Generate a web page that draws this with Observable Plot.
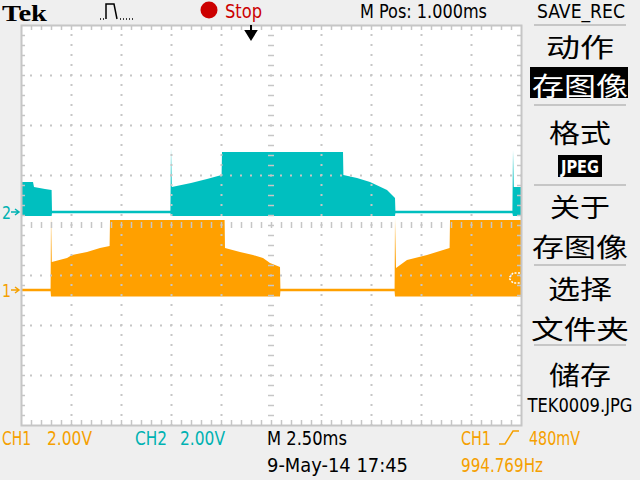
<!DOCTYPE html>
<html><head><meta charset="utf-8">
<script src="https://cdn.jsdelivr.net/npm/d3@7"></script>
<script src="https://cdn.jsdelivr.net/npm/@observablehq/plot@0.6"></script>
<style>
html,body{margin:0;padding:0;background:#efefef;}
#wrap{position:relative;width:640px;height:480px;overflow:hidden;background:#efefef;}
#wrap svg{position:absolute;left:0;top:0;}
</style></head><body><div id="wrap"></div>
<script>
// ---- scope settings ----
const msPerDiv = 2.5;      // M 2.50ms
const mPos = 1.0;          // M Pos: 1.000ms
const voltsPerDiv = 2.0;   // CH1 2.00V, CH2 2.00V
const ch1Offset = -1.3;    // ground marker positions, divisions from centre
const ch2Offset = 0.26;
const trigLevel = 0.48;    // CH1 trigger 480mV

// ---- CH2 (cyan) envelope: time (ms), upper / lower volts ----
const ch2Time = [-11.5,-10.9,-10.85,-10.3,-9.97,-9.95,-4.03,-4.0,-3.96,-3.0,-2.2,-1.47,-1.45,4.6,4.62,5.3,5.95,6.8,7.2,7.22,13.07,13.1,13.14,13.5];
const ch2High = [1.2,1.2,1.0,0.92,0.88,0.05,0.05,2.56,1.0,1.16,1.32,1.48,2.4,2.4,1.48,1.36,1.2,0.88,0.56,0.05,0.05,2.48,1.0,1.0];
const ch2Low  = [-0.16,-0.16,-0.16,-0.16,-0.16,-0.05,-0.05,-0.16,-0.16,-0.16,-0.16,-0.16,-0.16,-0.16,-0.16,-0.16,-0.16,-0.16,-0.16,-0.05,-0.05,-0.16,-0.16,-0.16];

// ---- CH1 (orange) envelope ----
const ch1Time = [-11.5,-10.02,-10.0,-9.96,-9.2,-8.95,-8.2,-7.55,-7.07,-7.05,-1.32,-1.3,-0.55,0.1,0.6,0.95,1.45,1.47,7.18,7.2,7.25,7.8,8.8,9.93,9.95,13.5];
const ch1High = [0.05,0.05,2.96,1.12,1.28,1.4,1.52,1.68,1.76,2.8,2.8,1.68,1.52,1.4,1.28,1.08,0.92,0.05,0.05,2.88,0.88,1.2,1.4,1.68,2.8,2.8];
const ch1Low  = [-0.05,-0.05,-0.26,-0.26,-0.26,-0.26,-0.26,-0.26,-0.26,-0.26,-0.26,-0.26,-0.26,-0.26,-0.26,-0.26,-0.26,-0.05,-0.05,-0.26,-0.26,-0.26,-0.26,-0.26,-0.26,-0.26];

const cyan = "#00bfbf", orange = "#ffa000", gridColor = "#c6c6c6";
const cyanText = "#00b2b2", orangeText = "#f5a000";

const toDiv = (v, off) => v / voltsPerDiv + off;
const ch2Rows = ch2Time.map((t, i) => ({t, lo: toDiv(ch2Low[i], ch2Offset), hi: toDiv(ch2High[i], ch2Offset)}));
const ch1Rows = ch1Time.map((t, i) => ({t, lo: toDiv(ch1Low[i], ch1Offset), hi: toDiv(ch1High[i], ch1Offset)}));

const timeDomain = [mPos - 5 * msPerDiv, mPos + 5 * msPerDiv];
const majorTimes = d3.range(-4, 5).filter(k => k !== 0).map(k => mPos + k * msPerDiv);
const majorDivs = [-3, -2, -1, 1, 2, 3];
const minorTimes = d3.range(1, 50).map(k => timeDomain[0] + k * msPerDiv / 5);
const minorDivs = d3.range(1, 40).map(k => -4 + k * 0.2);
const tx = 0.2 * msPerDiv / 5 * 2; // 4px in time units

const chart = Plot.plot({
  width: 640, height: 480,
  marginLeft: 21, marginRight: 119, marginTop: 25, marginBottom: 55,
  x: {domain: timeDomain, axis: null},
  y: {domain: [-4, 4], axis: null},
  style: {background: "transparent", overflow: "visible"},
  marks: [
    Plot.frame({fill: "#ffffff", stroke: "none"}),
    Plot.areaY(ch2Rows, {x: "t", y1: "lo", y2: "hi", fill: cyan, curve: "linear"}),
    Plot.areaY(ch1Rows, {x: "t", y1: "lo", y2: "hi", fill: orange, curve: "linear"}),
    Plot.ruleX(majorTimes, {stroke: gridColor, strokeWidth: 2, strokeDasharray: "2,8", strokeDashoffset: 1}),
    Plot.ruleY(majorDivs, {stroke: gridColor, strokeWidth: 2, strokeDasharray: "2,8", strokeDashoffset: 1}),
    Plot.ruleX(minorTimes, {y1: -0.06, y2: 0.06, stroke: gridColor, strokeWidth: 1.5}),
    Plot.ruleY(minorDivs, {x1: mPos - 0.15, x2: mPos + 0.15, stroke: gridColor, strokeWidth: 1.5}),
    Plot.ruleX(minorTimes, {y1: 4, y2: 3.9, stroke: gridColor, strokeWidth: 1.5}),
    Plot.ruleX(minorTimes, {y1: -4, y2: -3.9, stroke: gridColor, strokeWidth: 1.5}),
    Plot.ruleY(minorDivs, {x1: timeDomain[0], x2: timeDomain[0] + tx, stroke: gridColor, strokeWidth: 1.5}),
    Plot.ruleY(minorDivs, {x1: timeDomain[1] - tx, x2: timeDomain[1], stroke: gridColor, strokeWidth: 1.5}),
    Plot.frame({stroke: gridColor, strokeWidth: 2})
  ]
});
document.getElementById("wrap").appendChild(chart);

// ---- overlay: scope screen annotations ----
const xs = chart.scale("x"), ys = chart.scale("y");
const svg = d3.select("#wrap").append("svg").attr("width", 640).attr("height", 480);
const narrow = "'DejaVu Sans Condensed','DejaVu Sans',sans-serif";
const cjk = "'Noto Sans CJK SC','Noto Sans CJK JP',sans-serif";

function label(txt, x, y, o = {}) {
  const t = svg.append("text").attr("x", x).attr("y", y).text(txt)
    .attr("font-family", o.font || narrow).attr("font-size", o.size || 19)
    .attr("fill", o.fill || "#000").attr("font-weight", o.weight || "normal")
    .attr("text-anchor", o.anchor || "start");
  if (o.len) t.attr("textLength", o.len).attr("lengthAdjust", o.adjust || "spacingAndGlyphs");
  return t;
}

// top bar
label("Tek", 2, 21, {font: "'Liberation Serif','DejaVu Serif',serif", size: 23, weight: "bold", len: 45});
svg.append("path").attr("d", "M100,19h1M103,19h1M106,19V4H114L117,19M120,19h1M123,19h1M126,19h1M129,19h1M132,19h1")
  .attr("fill", "none").attr("stroke", "#000").attr("stroke-width", 1.5);
svg.append("circle").attr("cx", 209).attr("cy", 10).attr("r", 8.5).attr("fill", "#cc0000");
label("Stop", 225, 18, {fill: "#cc0000", len: 37});
label("M Pos: 1.000ms", 360, 18, {len: 127});
label("SAVE_REC", 537, 18, {len: 88});

// trigger position marker
const tX = xs.apply(0);
svg.append("path").attr("d", `M${tX},25V31M${tX - 5},31H${tX + 5}L${tX},39Z`).attr("stroke", "#000").attr("stroke-width", 2).attr("fill", "#000");

// ground markers
const g2 = ys.apply(ch2Offset), g1 = ys.apply(ch1Offset);
label("2", 2, g2 + 7, {fill: cyanText, size: 18, len: 9});
svg.append("path").attr("d", `M11,${g2}H19M15,${g2 - 3}L19,${g2}L15,${g2 + 3}`).attr("stroke", cyanText).attr("stroke-width", 1.5).attr("fill", "none");
label("1", 2, g1 + 7, {fill: orangeText, size: 18, len: 9});
svg.append("path").attr("d", `M11,${g1}H19M15,${g1 - 3}L19,${g1}L15,${g1 + 3}`).attr("stroke", orangeText).attr("stroke-width", 1.5).attr("fill", "none");

// trigger level marker (right edge)
const tl = ys.apply(toDiv(trigLevel, ch1Offset));
svg.append("path").attr("d", `M520,${tl - 5}L513,${tl - 5}L509,${tl}L513,${tl + 5}L520,${tl + 5}`)
  .attr("stroke", "#ffffff").attr("stroke-width", 1.5).attr("stroke-dasharray", "2,1.5").attr("fill", "none");

// right menu panel
[25, 105, 185, 265, 345].forEach(y => svg.append("line").attr("x1", 534).attr("x2", 626).attr("y1", y).attr("y2", y).attr("stroke", gridColor).attr("stroke-width", 2));
svg.append("rect").attr("x", 530).attr("y", 67).attr("width", 98).attr("height", 31).attr("fill", "#000");
svg.append("rect").attr("x", 558).attr("y", 155).attr("width", 44).attr("height", 22).attr("fill", "#000");
const cj = {font: cjk, size: 26, anchor: "middle"};
label("动作", 580, 57, {...cj, len: 68});
label("存图像", 580, 96, {...cj, fill: "#fff", len: 96});
label("格式", 580, 143, {...cj, len: 62});
label("JPEG", 580, 173, {size: 17, weight: "bold", fill: "#fff", anchor: "middle", len: 38});
label("关于", 580, 217, {...cj, len: 60});
label("存图像", 580, 257, {...cj, len: 96});
label("选择", 580, 299, {...cj, len: 64});
label("文件夹", 580, 339, {...cj, len: 98});
label("储存", 580, 385, {...cj, len: 62});
label("TEK0009.JPG", 580, 412, {anchor: "middle", len: 105});

// bottom readouts
label("CH1", 2, 445, {fill: orangeText, len: 29});
label("2.00V", 47, 445, {fill: orangeText, len: 45});
label("CH2", 135, 445, {fill: cyanText, len: 32});
label("2.00V", 180, 445, {fill: cyanText, len: 45});
label("M 2.50ms", 267, 445, {len: 80});
label("9-May-14 17:45", 267, 472, {len: 141});
label("CH1", 461, 445, {fill: orangeText, len: 30});
svg.append("path").attr("d", "M499,444H505L513,431H519").attr("stroke", orangeText).attr("stroke-width", 1.5).attr("fill", "none");
label("480mV", 529, 445, {fill: orangeText, len: 51});
label("994.769Hz", 461, 472, {fill: orangeText, len: 82});
</script></body></html>
